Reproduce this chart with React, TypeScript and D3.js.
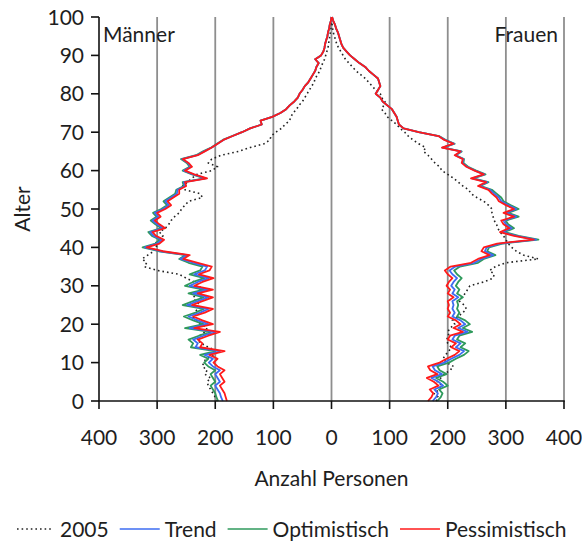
import React, { useEffect, useRef } from 'react';
import * as d3 from 'd3';

// Alter 0..100
const ages = d3.range(0, 101);

// Männer (Anzahl Personen je Altersjahr)
const men2005 = [
  196, 200, 204, 208, 212, 214, 208, 218, 214, 222,
  220, 216, 200, 196, 212, 224, 232, 226, 218, 214,
  226, 232, 240, 236, 230, 226, 234, 238, 230, 222,
  228, 236, 250, 262, 300, 322, 318, 326, 316, 306,
  300, 304, 296, 290, 296, 286, 280, 276, 270, 262,
  258, 252, 246, 222, 226, 252, 256, 248, 240, 232,
  206, 196, 212, 206, 190, 160, 140, 116, 106, 104,
  96, 86, 80, 72, 70, 66, 60, 56, 50, 46,
  42, 38, 34, 30, 28, 24, 20, 18, 15, 12,
  10, 8, 6, 5, 4, 3, 2, 1, 1, 0, 0
];
const menTrend = [
  187, 190, 192, 196, 200, 192, 196, 200, 192, 204,
  211, 204, 218, 192, 234, 230, 238, 220, 200, 244,
  212, 230, 246, 226, 212, 248, 230, 212, 238, 212,
  244, 230, 211, 236, 218, 214, 238, 260, 248, 294,
  321, 300, 292, 306, 312, 290, 300, 308, 298, 304,
  290, 280, 286, 276, 266, 265, 252, 254, 216, 238,
  254, 242, 247, 257, 231, 219, 206, 196, 186, 170,
  154, 140, 120, 122, 102, 88, 78, 72, 64, 58,
  55, 50, 46, 40, 36, 32, 28, 26, 22, 28,
  18, 14, 12, 11, 9, 7, 6, 4, 3, 1, 0
];
const menOptimistisch = [
  195, 198, 200, 204, 208, 200, 204, 208, 200, 212,
  219, 212, 226, 200, 242, 238, 246, 228, 208, 252,
  220, 238, 254, 234, 220, 256, 238, 220, 246, 220,
  252, 238, 219, 244, 226, 222, 246, 262, 251, 297,
  325, 303, 295, 309, 315, 293, 303, 311, 301, 307,
  293, 283, 289, 279, 269, 267, 254, 256, 218, 240,
  256, 244, 249, 259, 233, 221, 207, 197, 187, 171,
  154, 140, 120, 122, 102, 88, 78, 72, 64, 58,
  55, 50, 46, 40, 36, 32, 28, 26, 22, 28,
  18, 14, 12, 11, 9, 7, 6, 4, 3, 1, 0
];
const menPessimistisch = [
  180, 182, 184, 188, 192, 184, 188, 192, 184, 196,
  203, 196, 210, 184, 226, 222, 230, 212, 192, 236,
  204, 222, 238, 218, 204, 240, 222, 204, 230, 204,
  236, 222, 203, 228, 210, 206, 230, 255, 244, 290,
  318, 296, 288, 302, 308, 286, 296, 304, 294, 300,
  286, 276, 282, 272, 262, 262, 250, 252, 214, 236,
  252, 240, 246, 256, 230, 218, 206, 196, 186, 170,
  154, 140, 120, 122, 102, 88, 78, 72, 64, 58,
  55, 50, 46, 40, 36, 32, 28, 26, 22, 28,
  18, 14, 12, 11, 9, 7, 6, 4, 3, 1, 0
];

// Frauen
const women2005 = [
  180, 184, 176, 186, 190, 182, 188, 194, 204, 210,
  198, 192, 196, 202, 206, 200, 198, 202, 200, 204,
  212, 208, 218, 226, 232, 228, 220, 224, 230, 234,
  238, 262, 278, 280, 272, 282, 300, 356, 330, 318,
  310, 304, 300, 296, 290, 286, 284, 280, 278, 276,
  276, 270, 262, 250, 240, 236, 226, 218, 210, 200,
  190, 186, 178, 172, 166, 158, 162, 150, 140, 132,
  126, 118, 112, 104, 96, 92, 86, 90, 92, 86,
  84, 76, 70, 64, 58, 50, 42, 36, 30, 24,
  20, 16, 12, 9, 7, 5, 3, 2, 1, 1, 0
];
const womenTrend = [
  174, 180, 183, 177, 192, 184, 172, 190, 178, 174,
  194, 206, 220, 228, 214, 222, 208, 212, 234, 218,
  230, 222, 208, 212, 208, 210, 208, 218, 208, 212,
  206, 210, 216, 208, 203, 213, 246, 258, 278, 264,
  267, 290, 352, 318, 294, 310, 300, 296, 318, 300,
  318, 304, 292, 288, 280, 273, 254, 268, 242, 263,
  247, 233, 225, 227, 213, 223, 191, 211, 195, 184,
  150, 124, 116, 114, 112, 108, 104, 96, 88, 84,
  76, 80, 84, 82, 80, 72, 64, 58, 48, 40,
  32, 26, 20, 17, 15, 13, 11, 8, 6, 3, 1
];
const womenOptimistisch = [
  182, 188, 191, 185, 200, 192, 180, 198, 186, 182,
  202, 214, 228, 236, 222, 230, 216, 220, 242, 226,
  238, 230, 216, 220, 216, 218, 216, 226, 216, 220,
  214, 218, 224, 216, 211, 221, 252, 262, 282, 268,
  271, 294, 356, 322, 298, 314, 304, 300, 322, 304,
  322, 308, 296, 292, 284, 276, 256, 270, 244, 265,
  249, 235, 227, 228, 214, 224, 192, 212, 196, 185,
  150, 124, 116, 114, 112, 108, 104, 96, 88, 84,
  76, 80, 84, 82, 80, 72, 64, 58, 48, 40,
  32, 26, 20, 17, 15, 13, 11, 8, 6, 3, 1
];
const womenPessimistisch = [
  166, 172, 175, 169, 184, 176, 164, 182, 170, 166,
  186, 198, 212, 220, 206, 214, 200, 204, 226, 210,
  222, 214, 200, 204, 200, 202, 200, 210, 200, 204,
  198, 202, 208, 200, 195, 205, 240, 252, 272, 258,
  262, 285, 348, 314, 290, 306, 296, 292, 314, 296,
  314, 300, 288, 284, 276, 270, 252, 266, 240, 262,
  246, 232, 224, 226, 212, 222, 190, 210, 194, 184,
  150, 124, 116, 114, 112, 108, 104, 96, 88, 84,
  76, 80, 84, 82, 80, 72, 64, 58, 48, 40,
  32, 26, 20, 17, 15, 13, 11, 8, 6, 3, 1
];

const seriesNames = ['2005', 'Trend', 'Optimistisch', 'Pessimistisch'];
const seriesColors = ['#222222', '#3d6cf2', '#2f9a5c', '#ff1a1a'];
const xTicks = [-400, -300, -200, -100, 0, 100, 200, 300, 400];
const yTicks = [0, 10, 20, 30, 40, 50, 60, 70, 80, 90, 100];

const FONT = 'Lato, "Open Sans", sans-serif';
const FS = 21;

export default function App() {
  const svgRef = useRef<SVGSVGElement>(null);

  useEffect(() => {
    if (!svgRef.current) return;
    const svg = d3.select(svgRef.current);
    svg.selectAll('*').remove();

    const x = d3.scaleLinear().domain([-400, 400]).range([99, 564]);
    const y = d3.scaleLinear().domain([0, 100]).range([401, 17]);

    // Gitterlinien
    svg.append('g')
      .selectAll('line')
      .data(xTicks.filter(t => t > -400))
      .enter()
      .append('line')
      .attr('x1', d => x(d))
      .attr('x2', d => x(d))
      .attr('y1', y(100))
      .attr('y2', y(0))
      .attr('stroke', '#8e8e8e')
      .attr('stroke-width', 1.8);

    // Linien
    const menData = [men2005, menTrend, menOptimistisch, menPessimistisch];
    const womenData = [women2005, womenTrend, womenOptimistisch, womenPessimistisch];
    const order = [0, 2, 1, 3];

    order.forEach(k => {
      [[menData[k], -1], [womenData[k], 1]].forEach(([vals, sign]: any) => {
        const line = d3.line<number>()
          .x(v => x(sign * v))
          .y((_, i) => y(ages[i]));
        svg.append('path')
          .datum(vals as number[])
          .attr('fill', 'none')
          .attr('stroke', seriesColors[k])
          .attr('stroke-width', k === 0 ? 1.6 : 1.8)
          .attr('stroke-dasharray', k === 0 ? '1.6,3' : null)
          .attr('stroke-linejoin', 'round')
          .attr('d', line);
      });
    });

    // Achsen
    const axisColor = '#111';
    svg.append('line')
      .attr('x1', x(-400)).attr('x2', x(-400))
      .attr('y1', y(100)).attr('y2', y(0))
      .attr('stroke', axisColor).attr('stroke-width', 1.6);
    svg.append('line')
      .attr('x1', x(-400) - 0.8).attr('x2', x(400) + 0.8)
      .attr('y1', y(0)).attr('y2', y(0))
      .attr('stroke', axisColor).attr('stroke-width', 1.6);

    svg.append('g').selectAll('line')
      .data(yTicks).enter().append('line')
      .attr('x1', x(-400) - 8).attr('x2', x(-400))
      .attr('y1', d => y(d)).attr('y2', d => y(d))
      .attr('stroke', axisColor).attr('stroke-width', 1.6);

    svg.append('g').selectAll('line')
      .data(xTicks).enter().append('line')
      .attr('x1', d => x(d)).attr('x2', d => x(d))
      .attr('y1', y(0)).attr('y2', y(0) + 8)
      .attr('stroke', axisColor).attr('stroke-width', 1.6);

    const textColor = '#1e1e1e';

    svg.append('g').selectAll('text')
      .data(yTicks).enter().append('text')
      .attr('x', 84)
      .attr('y', d => y(d))
      .attr('dy', '0.36em')
      .attr('text-anchor', 'end')
      .attr('font-family', FONT)
      .attr('font-size', FS)
      .attr('fill', textColor)
      .text(d => d);

    svg.append('g').selectAll('text')
      .data(xTicks).enter().append('text')
      .attr('x', d => x(d))
      .attr('y', 437)
      .attr('dy', '0.36em')
      .attr('text-anchor', 'middle')
      .attr('font-family', FONT)
      .attr('font-size', FS)
      .attr('fill', textColor)
      .text(d => Math.abs(d));

    // Titel
    svg.append('text')
      .attr('x', x(0)).attr('y', 478).attr('dy', '0.36em')
      .attr('text-anchor', 'middle')
      .attr('font-family', FONT).attr('font-size', FS)
      .attr('fill', textColor)
      .text('Anzahl Personen');

    svg.append('text')
      .attr('transform', `translate(22,${y(50)}) rotate(-90)`)
      .attr('dy', '0.36em')
      .attr('text-anchor', 'middle')
      .attr('font-family', FONT).attr('font-size', FS)
      .attr('fill', textColor)
      .text('Alter');

    svg.append('text')
      .attr('x', 103).attr('y', 34).attr('dy', '0.36em')
      .attr('font-family', FONT).attr('font-size', FS)
      .attr('fill', textColor)
      .text('Männer');

    svg.append('text')
      .attr('x', 558).attr('y', 34).attr('dy', '0.36em')
      .attr('text-anchor', 'end')
      .attr('font-family', FONT).attr('font-size', FS)
      .attr('fill', textColor)
      .text('Frauen');

    // Legende
    const legendY = 529;
    let cx = 17;
    seriesNames.forEach((name, k) => {
      svg.append('line')
        .attr('x1', cx).attr('x2', cx + (k === 0 ? 36 : 40))
        .attr('y1', legendY).attr('y2', legendY)
        .attr('stroke', seriesColors[k])
        .attr('stroke-width', k === 0 ? 1.6 : 1.5)
        .attr('stroke-dasharray', k === 0 ? '1.6,3' : null);
      const tx = cx + (k === 0 ? 43 : 45);
      const t = svg.append('text')
        .attr('x', tx).attr('y', legendY).attr('dy', '0.36em')
        .attr('font-family', FONT).attr('font-size', FS)
        .attr('fill', textColor)
        .text(name);
      const w = (t.node() as SVGTextElement).getComputedTextLength();
      cx = tx + w + 11;
    });
  }, []);

  return (
    <svg
      ref={svgRef}
      width={582}
      height={541}
      style={{ position: 'absolute', left: 0, top: 0, background: '#fff' }}
    />
  );
}
